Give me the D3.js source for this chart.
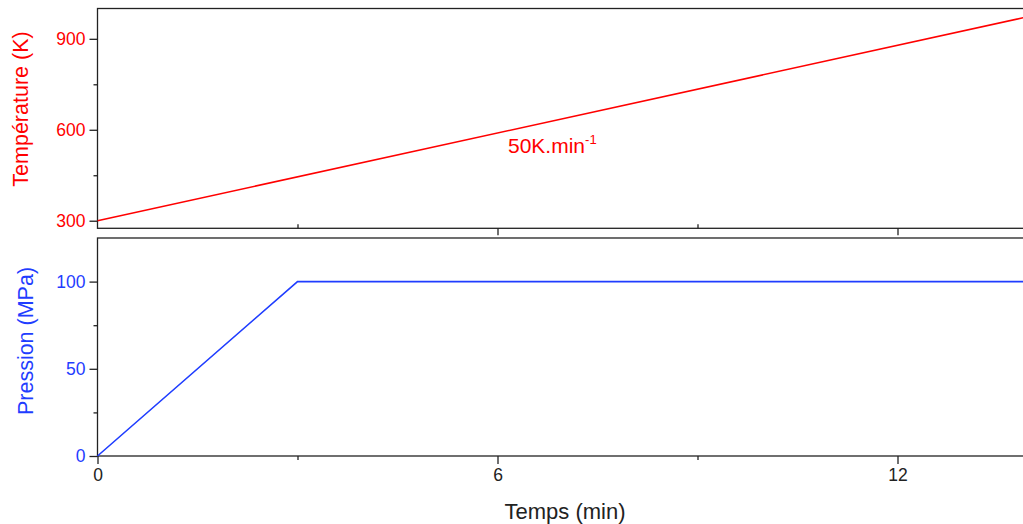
<!DOCTYPE html>
<html><head><meta charset="utf-8">
<script src="https://cdn.jsdelivr.net/npm/d3@7"></script>
<style>body{margin:0;background:#fff}svg{display:block;font-family:"Liberation Sans",Arial,sans-serif}</style>
</head><body>
<svg id="c" width="1023" height="524"></svg>
<script>
// Data
const tempTime = [0, 14];
const tempValues = [300, 975];
const pressTime = [0, 3, 14];
const pressValues = [0, 100, 100];
const xTicks = [0, 6, 12];
const xMinorTicks = [3, 9];
const tempTicks = [300, 600, 900];
const tempMinorTicks = [450, 750];
const pressTicks = [0, 50, 100];
const pressMinorTicks = [25, 75];
const rateLabel = "50K.min";
const rateExp = "-1";

const svg = d3.select("#c");
const FONT = "'Liberation Sans', Arial, sans-serif";
const RED = "#ff0000", BLUE = "#1f3dff", AX = "#222";
const x = d3.scaleLinear().domain([0, 6]).range([97.5, 497.5]);
const left = 97.5, right = 1030;
const yT = d3.scaleLinear().domain([275, 1000]).range([228.3, 8.5]);
const yP = d3.scaleLinear().domain([0, 125]).range([456, 238]);

function frame(y0, y1) {
  svg.append("rect").attr("x", left).attr("y", y0).attr("width", right - left).attr("height", y1 - y0)
    .attr("fill", "none").attr("stroke", AX).attr("stroke-width", 1.3);
}
frame(yT(1000), yT(275));
frame(yP(125), yP(0));

svg.append("path").datum(tempTime.map((t, i) => [t, tempValues[i]]))
  .attr("d", d3.line().x(d => x(d[0])).y(d => yT(d[1])))
  .attr("fill", "none").attr("stroke", RED).attr("stroke-width", 1.6);
svg.append("path").datum(pressTime.map((t, i) => [t, pressValues[i]]))
  .attr("d", d3.line().x(d => x(d[0])).y(d => yP(d[1])))
  .attr("fill", "none").attr("stroke", BLUE).attr("stroke-width", 1.6);

function axisG(transform, axis, color) {
  const g = svg.append("g").attr("transform", transform).call(axis)
    .attr("font-size", 17.5).attr("font-family", FONT);
  g.select(".domain").remove();
  g.selectAll("line").attr("stroke", AX).attr("stroke-width", 1.3);
  g.selectAll("text").attr("fill", color).attr("font-size", 17.5);
  return g;
}

axisG(`translate(${left},0)`, d3.axisLeft(yT).tickValues(tempTicks).tickSize(8).tickPadding(4), RED);
axisG(`translate(${left},0)`, d3.axisLeft(yT).tickValues(tempMinorTicks).tickSize(4).tickFormat(""), RED);
axisG(`translate(${left},0)`, d3.axisLeft(yP).tickValues(pressTicks).tickSize(8).tickPadding(4), BLUE);
axisG(`translate(${left},0)`, d3.axisLeft(yP).tickValues(pressMinorTicks).tickSize(4).tickFormat(""), BLUE);

axisG(`translate(0,${yP(0)})`, d3.axisBottom(x).tickValues(xTicks).tickSize(8).tickPadding(5).tickFormat(d3.format("d")), AX);
axisG(`translate(0,${yP(0)})`, d3.axisBottom(x).tickValues(xMinorTicks).tickSize(4).tickFormat(""), AX);
axisG(`translate(0,${yT(275)})`, d3.axisBottom(x).tickValues(xTicks.slice(1)).tickSize(7).tickFormat(""), AX);
axisG(`translate(0,${yT(275)})`, d3.axisTop(x).tickValues(xMinorTicks).tickSize(4).tickFormat(""), AX);

svg.append("text").attr("transform", "translate(28,109) rotate(-90)").attr("text-anchor", "middle")
  .attr("fill", RED).attr("font-size", 21.5).attr("font-family", FONT).text("Température (K)");
svg.append("text").attr("transform", "translate(33,341) rotate(-90)").attr("text-anchor", "middle")
  .attr("fill", BLUE).attr("font-size", 21.5).attr("font-family", FONT).text("Pression (MPa)");
svg.append("text").attr("x", 565).attr("y", 519).attr("text-anchor", "middle")
  .attr("fill", AX).attr("font-size", 22).attr("font-family", FONT).text("Temps (min)");

const t = svg.append("text").attr("x", 508).attr("y", 153).attr("fill", RED)
  .attr("font-size", 21).attr("font-family", FONT);
t.append("tspan").text(rateLabel);
t.append("tspan").attr("dy", -9).attr("font-size", 13).text(rateExp);
</script>
</body></html>
